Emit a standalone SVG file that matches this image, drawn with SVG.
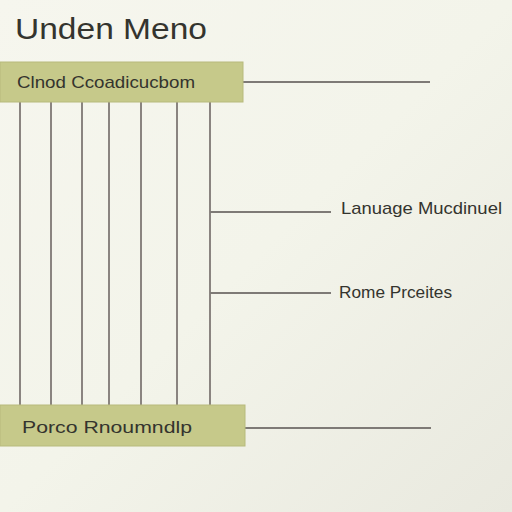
<svg xmlns="http://www.w3.org/2000/svg" width="512" height="512" viewBox="0 0 512 512">
<defs>
<linearGradient id="bg" x1="0" y1="0" x2="1" y2="1">
<stop offset="0" stop-color="#f6f6ee"/>
<stop offset="0.5" stop-color="#f3f4ea"/>
<stop offset="1" stop-color="#e9e9df"/>
</linearGradient>
<style>
.bar{fill:#c6c98a;stroke:#b7ba7c;stroke-width:1}
.ln{stroke:#8a8480;stroke-width:2;fill:none}
.hl{stroke:#7e7a76;stroke-width:2;fill:none}
.t{font-family:"Liberation Sans",Arial,sans-serif;fill:#34342e}
</style>
</defs>
<rect width="512" height="512" fill="url(#bg)"/>
<text class="t" x="15" y="39" font-size="30" fill="#262624" textLength="192" lengthAdjust="spacingAndGlyphs">Unden Meno</text>
<g id="connectors">
<line class="ln" x1="20" y1="102" x2="20" y2="405"/>
<line class="ln" x1="51" y1="102" x2="51" y2="405"/>
<line class="ln" x1="82" y1="102" x2="82" y2="405"/>
<line class="ln" x1="109" y1="102" x2="109" y2="405"/>
<line class="ln" x1="141" y1="102" x2="141" y2="405"/>
<line class="ln" x1="177" y1="102" x2="177" y2="405"/>
<line class="ln" x1="210" y1="102" x2="210" y2="405"/>
<line class="hl" x1="243" y1="82" x2="430" y2="82"/>
<line class="hl" x1="245" y1="428" x2="431" y2="428"/>
<line class="hl" x1="210" y1="212" x2="331" y2="212"/>
<line class="hl" x1="210" y1="293" x2="331" y2="293"/>
</g>
<g id="top">
<rect class="bar" x="0" y="62" width="243" height="40"/>
<text class="t" x="17" y="88" font-size="17" textLength="178" lengthAdjust="spacingAndGlyphs">Clnod Ccoadicucbom</text>
</g>
<g id="bottom">
<rect class="bar" x="0" y="405" width="245" height="41"/>
<text class="t" x="22" y="433" font-size="17" textLength="170" lengthAdjust="spacingAndGlyphs">Porco Rnoumndlp</text>
</g>
<g id="label1">
<text class="t" x="341" y="214" font-size="17" textLength="161" lengthAdjust="spacingAndGlyphs">Lanuage Mucdinuel</text>
</g>
<g id="label2">
<text class="t" x="339" y="298" font-size="17" textLength="113" lengthAdjust="spacingAndGlyphs">Rome Prceites</text>
</g>
</svg>
